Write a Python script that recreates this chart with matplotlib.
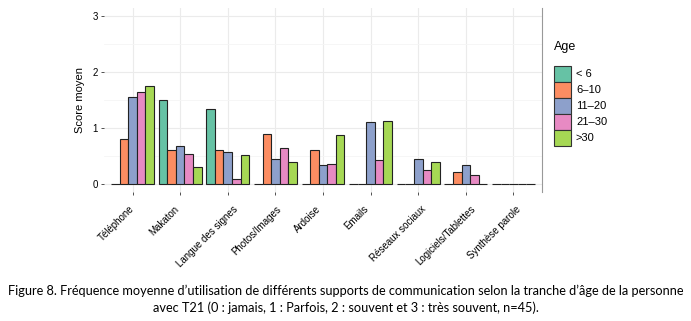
import numpy as np
import matplotlib
matplotlib.use('Agg')
import matplotlib.pyplot as plt
from matplotlib.patches import Rectangle
from matplotlib.transforms import ScaledTranslation

plt.rcParams['font.family'] = ['Liberation Sans', 'DejaVu Sans']

supports = ['Téléphone', 'Makaton', 'Langue des signes', 'Photos/Images', 'Ardoise',
            'Emails', 'Réseaux sociaux', 'Logiciels/Tablettes', 'Synthèse parole']
ages = ['< 6', '6\u201310', '11\u201320', '21\u201330', '>30']

moins_6 = [0.00, 1.50, 1.33, 0.00, 0.00, 0.00, 0.00, 0.00, 0.00]
de_6_10 = [0.80, 0.60, 0.60, 0.89, 0.60, 0.00, 0.00, 0.21, 0.00]
de_11_20 = [1.56, 0.67, 0.56, 0.45, 0.34, 1.11, 0.44, 0.34, 0.00]
de_21_30 = [1.65, 0.54, 0.08, 0.64, 0.36, 0.43, 0.25, 0.15, 0.00]
plus_30 = [1.75, 0.29, 0.51, 0.38, 0.88, 1.12, 0.38, 0.00, 0.00]
series = [moins_6, de_6_10, de_11_20, de_21_30, plus_30]

couleurs = ['#66C2A5', '#FC8D62', '#8DA0CB', '#E78AC3', '#A6D854']

W, H = 691, 321
fig = plt.figure(figsize=(W / 100, H / 100), dpi=100)
ax = fig.add_axes([104 / W, 1 - 192 / H, 438 / W, 184 / H])

x = np.arange(len(supports))
w = 0.18
for i, vals in enumerate(series):
    ax.bar(x + (i - 2) * w, vals, width=w, color=couleurs[i], edgecolor='#222222',
           linewidth=0.8, zorder=3)

ax.set_xlim(-0.6, len(supports) - 0.4)
ax.set_ylim(-0.15, 3.15)
ax.set_yticks([0, 1, 2, 3])
ax.set_yticks([0.5, 1.5, 2.5], minor=True)
ax.set_xticks(x)
ax.set_xticklabels(supports, rotation=45, ha='right', va='top')
ax.tick_params(axis='x', labelsize=7, length=2.5, width=0.6, color='#333333', pad=6)
ax.tick_params(axis='y', labelsize=7, length=2.5, width=0.6, color='#333333', pad=2)
ax.tick_params(axis='y', which='minor', length=0)
ax.grid(which='major', color='#EBEBEB', linewidth=0.8, zorder=0)
ax.grid(which='minor', axis='y', color='#F5F5F5', linewidth=0.6, zorder=0)
for s in ['top', 'left', 'bottom']:
    ax.spines[s].set_visible(False)
ax.spines['right'].set_color('#999999')
ax.spines['right'].set_linewidth(0.8)
ax.set_ylabel('Score moyen', fontsize=8, labelpad=5)

# légende construite à la main : clés de 17x16 px empilées sans écart
fig.text(554 / W, 1 - 47 / H, 'Age', fontsize=9, ha='left', va='center')
for i, (age, c) in enumerate(zip(ages, couleurs)):
    haut = 66 + 16 * i
    fig.add_artist(Rectangle((554 / W, 1 - (haut + 16) / H), 17 / W, 16 / H,
                             transform=fig.transFigure, facecolor=c,
                             edgecolor='#333333', linewidth=0.8))
    fig.text(576 / W, 1 - (haut + 8) / H, age, fontsize=8, ha='left', va='center')

cap_font = ['Lato', 'DejaVu Sans']
fig.text(0.5, 1 - 291 / H, "Figure 8. Fréquence moyenne d\u2019utilisation de différents supports "
         "de communication selon la tranche d\u2019âge de la personne", ha='center', va='center',
         fontsize=9.2, family=cap_font)
fig.text(0.5, 1 - 308 / H, "avec T21 (0 : jamais, 1 : Parfois, 2 : souvent et 3 : très souvent, n=45).",
         ha='center', va='center', fontsize=9.2, family=cap_font)

# les étiquettes longues débordent un peu à droite de leur graduation
fig.canvas.draw()
rend = fig.canvas.get_renderer()
for lab in ax.get_xticklabels():
    larg = lab.get_window_extent(rend).width
    dx = (larg / 3 - 10) / fig.dpi
    lab.set_transform(lab.get_transform() + ScaledTranslation(dx, 0, fig.dpi_scale_trans))

fig.savefig('out.png', dpi=100)
